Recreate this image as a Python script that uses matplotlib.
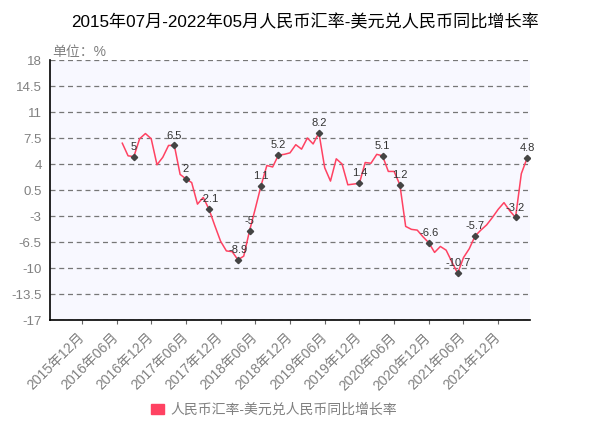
import numpy as np
import matplotlib.pyplot as plt
from matplotlib.patches import Patch

plt.rcParams['font.family'] = ['Liberation Sans', 'Noto Sans CJK SC']

# 2015年07月 .. 2022年05月
months = [f'{y}年{m:02d}月' for y in range(2015, 2023) for m in range(1, 13)][6:89]

# 同比增长率 (%), first 12 months have no value
rates = [np.nan] * 12 + [
    6.8, 5.1, 5.0, 7.4, 8.1, 7.4, 3.9, 4.9, 6.5, 6.5, 2.6, 2.0,
    1.5, -1.4, -0.5, -2.1, -4.3, -6.4, -7.7, -7.8, -8.9, -8.4, -5.0, -2.0,
    1.1, 3.8, 3.6, 5.2, 5.3, 5.5, 6.6, 6.0, 7.5, 6.7, 8.2, 3.5,
    1.7, 4.7, 4.0, 1.2, 1.3, 1.4, 4.2, 4.1, 5.3, 5.1, 3.0, 3.0,
    1.2, -4.4, -4.8, -4.9, -5.8, -6.6, -7.9, -7.1, -7.6, -9.2, -10.7, -8.6,
    -7.4, -5.7, -4.9, -4.2, -3.2, -2.1, -1.2, -2.3, -3.2, 2.7, 4.8,
]

labelled = ['2016年09月', '2017年04月', '2017年06月', '2017年10月', '2018年03月',
            '2018年05月', '2018年07月', '2018年10月', '2019年05月', '2019年12月',
            '2020年04月', '2020年07月', '2020年12月', '2021年05月', '2021年08月',
            '2022年03月', '2022年05月']

tick_labels = ['2015年12月', '2016年06月', '2016年12月', '2017年06月', '2017年12月',
               '2018年06月', '2018年12月', '2019年06月', '2019年12月', '2020年06月',
               '2020年12月', '2021年06月', '2021年12月']

y_ticks = [18, 14.5, 11, 7.5, 4, 0.5, -3, -6.5, -10, -13.5, -17]

line_color = '#ff4262'
gray = '#808080'

fig = plt.figure(figsize=(6.1, 4.36), dpi=100)
ax = fig.add_axes([50 / 610, 1 - 320 / 436, 480 / 610, 260 / 436])
ax.set_facecolor('#f8f8ff')

x = np.arange(len(months))
ax.plot(x, rates, color=line_color, linewidth=1.1, zorder=3)

idx = [months.index(m) for m in labelled]
vals = [rates[i] for i in idx]
ax.plot(idx, vals, linestyle='none', marker='D', markersize=3.2,
        color='#444444', zorder=4)
for i, v in zip(idx, vals):
    ax.annotate(f'{v:g}', (i, v), xytext=(0, 3.5), textcoords='offset points',
                ha='center', va='bottom', fontsize=8, color='#333333', zorder=5)

ax.set_xlim(-0.5, len(months) - 0.5)
ax.set_ylim(-17, 18)
ax.set_yticks(y_ticks)
ax.set_yticklabels([f'{t:g}' for t in y_ticks], color=gray, fontsize=9.5)
ax.tick_params(axis='y', length=0, pad=6)

ax.set_xticks([months.index(t) for t in tick_labels])
ax.set_xticklabels(tick_labels, rotation=45, ha='right', va='center',
                   rotation_mode='anchor', color=gray, fontsize=10)
ax.tick_params(axis='x', length=3, color='#666666', pad=8)

ax.grid(axis='y', color='#777777', linestyle=(0, (4, 3)), linewidth=0.9)
ax.set_axisbelow(True)
for s in ['top', 'right']:
    ax.spines[s].set_visible(False)
for s in ['left', 'bottom']:
    ax.spines[s].set_color('black')
    ax.spines[s].set_linewidth(1.2)

ax.text(0.005, 1.005, '单位：%', transform=ax.transAxes, ha='left', va='bottom',
        fontsize=10, color=gray)

fig.text(0.5, 1 - 22 / 436, '2015年07月-2022年05月人民币汇率-美元兑人民币同比增长率',
         ha='center', va='center', fontsize=12.3, color='black')

fig.legend(handles=[Patch(color=line_color, label='人民币汇率-美元兑人民币同比增长率')],
           loc='center left', bbox_to_anchor=(138 / 610, 1 - 410 / 436), frameon=False,
           fontsize=10, labelcolor=gray, handlelength=1.0, handleheight=0.8,
           handletextpad=0.4)

fig.savefig('out.png', dpi=100)
